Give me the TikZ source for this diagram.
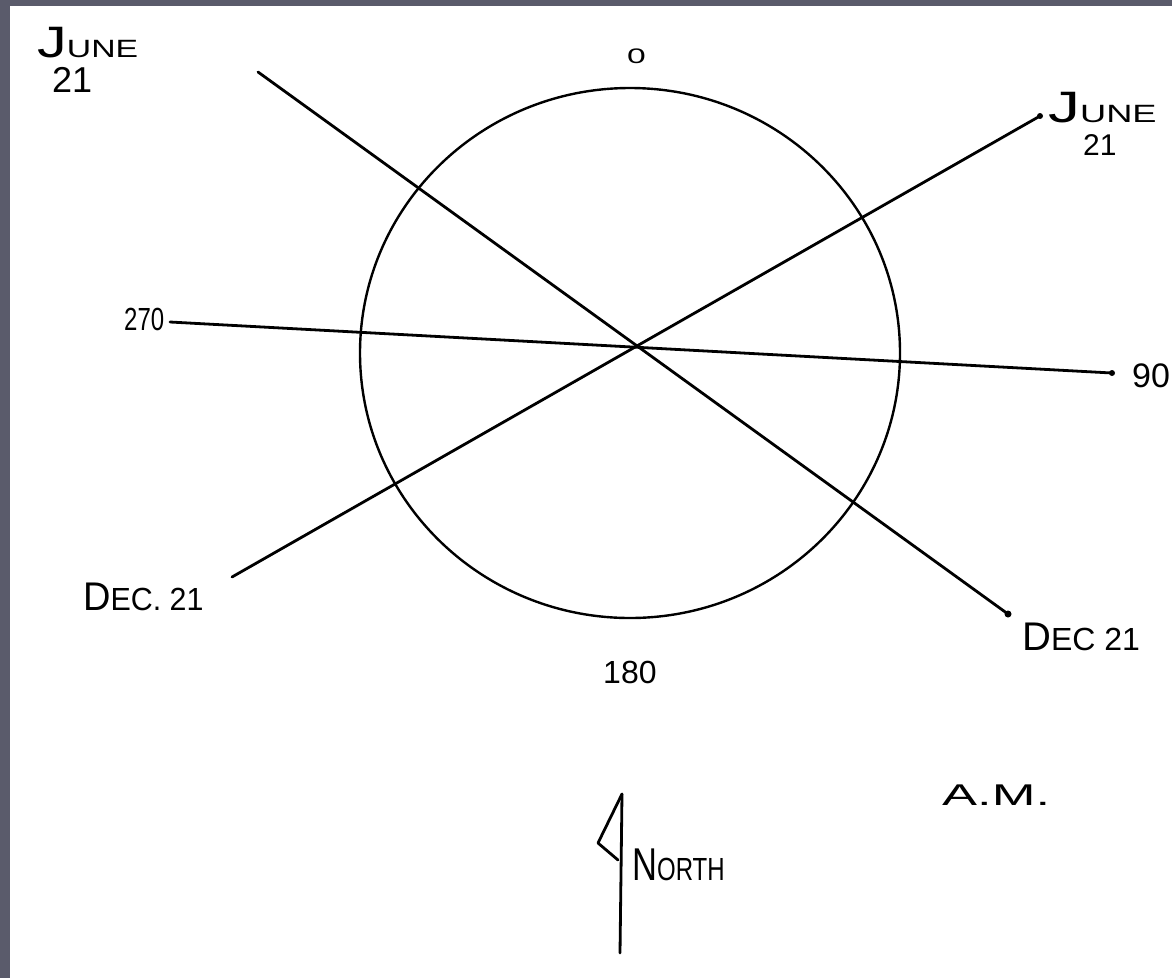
\documentclass[tikz,border=0pt]{standalone}
\usepackage{graphicx}
\usepackage{fontspec}
\usetikzlibrary{shapes.geometric}
\setmainfont{Liberation Sans}
\definecolor{frame}{HTML}{5A5B6B}
\newcommand\fsz[1]{\fontsize{#1}{#1}\selectfont}
\begin{document}
\begin{tikzpicture}[x=1pt,y=-1pt,
  lab/.style={inner sep=0pt, anchor=base west},
  pen/.style={line width=2.8pt, line cap=round, line join=round},
  penthin/.style={line width=2.4pt},
  pendot/.style={fill=black}]
\fill[frame] (0,0) rectangle (1172,978);
\fill[white] (10,6) rectangle (1172,978);
\useasboundingbox (0,0) rectangle (1172,978);

% circle
\node[draw, penthin, ellipse, minimum width=540pt, minimum height=530pt, inner sep=0pt] (circ) at (630,353) {};

% line end points
\coordinate (w) at (170,322);
\coordinate (e) at (1112,373);
\coordinate (jl) at (258,72);
\coordinate (dr) at (1008,614);
\coordinate (dl) at (232,577);
\coordinate (jr) at (1040,116);

\draw[pen] (w) -- (e);
\draw[pen] (jl) -- (dr);
\draw[pen] (dl) -- (jr);
\fill[pendot] (e) circle (3pt);
\fill[pendot] (dr) circle (3.5pt);
\fill[pendot] (jr) circle (3pt);

% labels
\node[lab] (l0) at (627,63) {\scalebox{1.6}[1]{\fsz{21}0}};
\node[lab] (l270) at (124,330) {\scalebox{0.75}[1]{\fsz{32}270}};
\node[lab] (l90) at (1132,387) {\fsz{34}90};
\node[lab] (l180) at (603,683) {\fsz{32}180};
\node[lab] (ljl1) at (37,57) {\scalebox{1.35}[1]{{\fsz{44}J}\fsz{25}UNE}};
\node[lab] (ljl2) at (52,92) {\fsz{36}21};
\node[lab] (ljr1) at (1048,122) {\scalebox{1.45}[1]{{\fsz{44}J}\fsz{25}UNE}};
\node[lab] (ljr2) at (1083,155) {\fsz{30}21};
\node[lab] (ldl) at (83,610) {\scalebox{0.95}[1]{{\fsz{40}D}\fsz{32}EC. 21}};
\node[lab] (ldr) at (1022,650) {{\fsz{40}D}\fsz{32}EC 21};
\node[lab] (lam) at (942,805) {\scalebox{1.75}[1]{\fsz{30}A.M.}};

% north arrow
\coordinate (nt) at (622,794);
\coordinate (nb) at (620,953);
\coordinate (nw) at (598,843);
\coordinate (nm) at (618,860);
\draw[pen] (nt) -- (nb);
\draw[pen] (nt) -- (nw) -- (nm);
\node[lab] (lnorth) at (632,880) {\scalebox{0.75}[1]{{\fsz{46}N}\fsz{32}ORTH}};
\end{tikzpicture}
\end{document}
